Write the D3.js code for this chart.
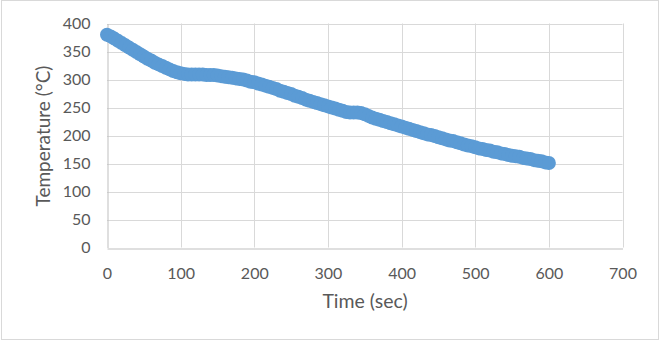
<!DOCTYPE html>
<html><head><meta charset="utf-8">
<script src="https://cdn.jsdelivr.net/npm/d3@7"></script>
<style>body{margin:0;background:#fff}svg{display:block}text{font-family:Lato,"Open Sans",sans-serif;fill:#595959}</style>
</head><body>
<script>
const timeSec = d3.range(0, 601, 5);
const temperature = [380,377,373,369,365,361,357,353,349,345,341,337,334,330,327,324,321,318,315,313,
311,310,309,309,309,309,309,308,308,308,307,306,305,304,303,302,301,300,298,296,
295,293,291,289,287,285,283,280,278,276,274,271,269,267,264,262,260,258,256,254,
252,250,248,246,244,242,241,241,241,240,238,235,232,230,228,226,224,222,220,218,
216,214,212,210,208,206,204,202,201,199,197,195,193,191,190,188,186,184,182,181,
179,177,176,174,173,171,170,168,167,165,164,163,162,160,159,158,156,155,154,152,151];
const xTicks = [0,100,200,300,400,500,600,700];
const yTicks = [0,50,100,150,200,250,300,350,400];

const W = 661, H = 341;
const svg = d3.select("body").append("svg").attr("width", W).attr("height", H);
svg.append("rect").attr("x",1.5).attr("y",0.5).attr("width",657).attr("height",339)
  .attr("fill","#fff").attr("stroke","#D9D9D9");

const x = d3.scaleLinear().domain([0,700]).range([107, 622.5]);
const y = d3.scaleLinear().domain([0,400]).range([247.5, 23.5]);

// gridlines
svg.append("g").selectAll("line.h").data(yTicks.filter(d=>d>0)).join("line")
  .attr("x1", x(0)).attr("x2", x(700)).attr("y1", d=>Math.round(y(d))+0.5).attr("y2", d=>Math.round(y(d))+0.5)
  .attr("stroke","#D9D9D9").attr("stroke-width",1);
svg.append("g").selectAll("line.v").data(xTicks.filter(d=>d>0)).join("line")
  .attr("y1", y(0)).attr("y2", y(400)).attr("x1", d=>Math.round(x(d))+0.5).attr("x2", d=>Math.round(x(d))+0.5)
  .attr("stroke","#D9D9D9").attr("stroke-width",1);

// axes
const xAxis = d3.axisBottom(x).tickValues(xTicks).tickSize(0).tickPadding(19);
const gx = svg.append("g").attr("transform",`translate(0,${Math.round(y(0))+0.5})`).call(xAxis);
gx.select(".domain").attr("stroke","#BFBFBF");
gx.selectAll("text").style("font-size","16px").attr("fill","#595959");
const yAxis = d3.axisLeft(y).tickValues(yTicks).tickSize(0).tickPadding(17);
const gy = svg.append("g").attr("transform",`translate(${Math.round(x(0))+0.5},0)`).call(yAxis);
gy.select(".domain").attr("stroke","#BFBFBF");
gy.selectAll("text").style("font-size","16px").attr("fill","#595959");

// series
const data = timeSec.map((t,i)=>({t, v: temperature[i]}));
svg.append("g").selectAll("circle").data(data).join("circle")
  .attr("cx", d=>x(d.t)).attr("cy", d=>y(d.v)).attr("r", 7)
  .attr("fill","#5B9BD5");

// titles
svg.append("text").attr("x", 365).attr("y", 308).attr("text-anchor","middle")
  .style("font-size","19.5px").text("Time (sec)");
svg.append("text").attr("transform","translate(50,136) rotate(-90)").attr("text-anchor","middle")
  .style("font-size","19px").text("Temperature (°C)");
</script>
</body></html>
